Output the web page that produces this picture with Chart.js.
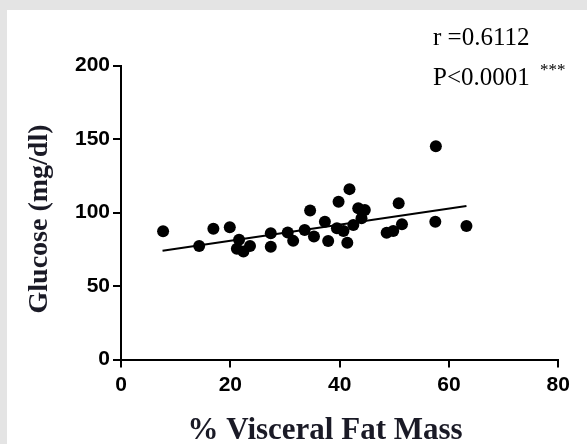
<!DOCTYPE html>
<html>
<head>
<meta charset="utf-8">
<script src="https://cdn.jsdelivr.net/npm/chart.js@4"></script>
<style>
  html, body { margin: 0; padding: 0; background: #e4e4e4; }
  #panel { position: absolute; left: 7px; top: 10px; width: 580px; height: 434px; background: #fff; }
  #chart { display: block; }
</style>
</head>
<body>
<div id="panel"><canvas id="chart" width="580" height="434"></canvas></div>
<script>
// % visceral fat mass vs glucose (mg/dl)
const visceralFat = [7.7, 14.3, 16.9, 19.9, 21.6, 21.2, 22.4, 23.6, 27.4, 27.4, 30.5, 31.5, 33.6, 34.6, 35.3, 37.3, 37.9,
    39.8, 39.5, 40.7, 41.4, 41.8, 43.4, 44.6, 42.5, 44.0, 50.8, 51.4, 49.8, 48.6, 57.6, 57.5, 63.2];
const glucose = [87.2, 77.2, 89.0, 89.9, 81.5, 75.3, 73.5, 77.2, 85.9, 76.7, 86.4, 80.7, 88.1, 101.4, 83.7, 93.7, 80.6,
    107.3, 89.3, 87.4, 79.5, 115.9, 102.9, 101.7, 91.5, 96.1, 106.3, 92.0, 87.4, 86.2, 145.0, 93.7, 90.8];

// regression line ends
const fitX = [7.6, 63.2];
const fitY = [74.0, 104.4];

const xTicks = [0, 20, 40, 60, 80];
const yTicks = [0, 50, 100, 150, 200];

const xTitle = '% Visceral Fat Mass';
const yTitle = 'Glucose (mg/dl)';
const statsText = ["r =0.6112", "P<0.0001"];
const starsText = "***";

const ink = '#000';
const titleInk = '#1a1a26';
const serif = '"Liberation Serif", "Times New Roman", serif';

// axis titles and the r / P text
const textPlugin = {
    id: 'texts',
    afterDraw(chart) {
        const ctx = chart.ctx;
        ctx.save();
        ctx.fillStyle = titleInk;
        ctx.textAlign = 'center';
        ctx.textBaseline = 'middle';
        ctx.font = 'bold 31px ' + serif;
        ctx.fillText(xTitle, 318, 421);
        ctx.translate(33, 209);
        ctx.rotate(-Math.PI / 2);
        ctx.font = 'bold 28px ' + serif;
        ctx.fillText(yTitle, 0, 0);
        ctx.restore();

        ctx.save();
        ctx.fillStyle = ink;
        ctx.textBaseline = 'middle';
        ctx.textAlign = 'left';
        ctx.font = '25px ' + serif;
        ctx.fillText(statsText[0], 426, 28);
        ctx.fillText(statsText[1], 426, 68);
        ctx.font = '17px ' + serif;
        ctx.fillText(starsText, 533, 61);
        ctx.restore();
    }
};

new Chart(document.getElementById('chart'), {
    type: 'scatter',
    data: {
        datasets: [{
            label: 'Subjects',
            data: visceralFat.map((x, i) => ({ x: x, y: glucose[i] })),
            backgroundColor: ink,
            borderColor: ink,
            pointRadius: 6,
            pointHoverRadius: 6,
            borderWidth: 0
        }, {
            label: 'Fit',
            type: 'line',
            data: fitX.map((x, i) => ({ x: x, y: fitY[i] })),
            borderColor: ink,
            borderWidth: 2,
            pointRadius: 0,
            fill: false,
            tension: 0
        }]
    },
    options: {
        responsive: false,
        animation: false,
        layout: { padding: { left: 0, top: 55.5, right: 28.7, bottom: 0 } },
        plugins: {
            legend: { display: false },
            tooltip: { enabled: false }
        },
        scales: {
            x: {
                type: 'linear',
                min: 0,
                max: 80,
                afterFit: (scale) => { scale.height = 84.5; },
                afterBuildTicks: (scale) => { scale.ticks = xTicks.map(v => ({ value: v })); },
                border: { color: ink, width: 2 },
                grid: { drawOnChartArea: false, color: ink, lineWidth: 2, tickLength: 8 },
                ticks: {
                    color: ink,
                    padding: 5,
                    font: { family: '"Liberation Sans", Arial, sans-serif', size: 21, weight: 'bold' }
                }
            },
            y: {
                type: 'linear',
                min: 0,
                max: 200,
                afterFit: (scale) => { scale.width = 114; },
                afterBuildTicks: (scale) => { scale.ticks = yTicks.map(v => ({ value: v })); },
                border: { color: ink, width: 2 },
                grid: { drawOnChartArea: false, color: ink, lineWidth: 2, tickLength: 8 },
                ticks: {
                    color: ink,
                    padding: 3,
                    font: { family: '"Liberation Sans", Arial, sans-serif', size: 21, weight: 'bold' }
                }
            }
        }
    },
    plugins: [textPlugin]
});
</script>
</body>
</html>
